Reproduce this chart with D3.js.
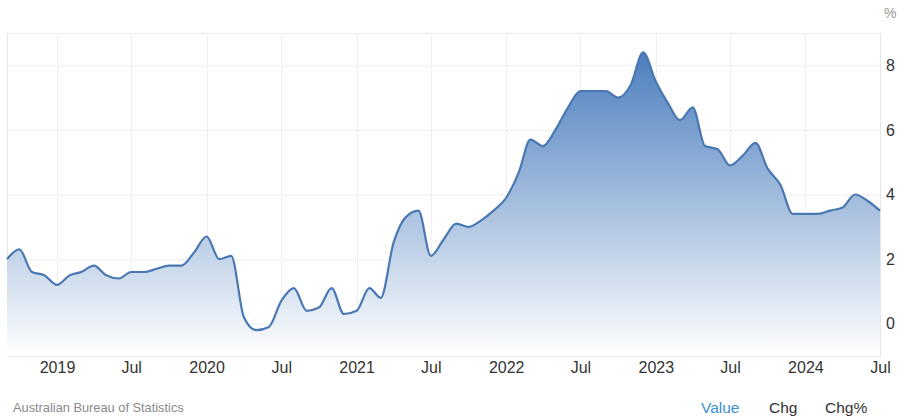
<!DOCTYPE html>
<html>
<head>
<meta charset="utf-8">
<script src="https://cdn.jsdelivr.net/npm/d3@7"></script>
<style>
  body { margin: 0; background: #fff; }
  svg { display: block; font-family: Arial, "Liberation Sans", sans-serif; }
</style>
</head>
<body>
<div id="chart"></div>
<script>
// Australia monthly CPI indicator, annual % change, Sep 2018 - Jul 2024
const startMonth = '2018-09';
const values = [
    2.0, 2.3, 1.6, 1.5,                                   // 2018 Sep-Dec
    1.2, 1.5, 1.6, 1.8, 1.5, 1.4, 1.6, 1.6, 1.7, 1.8, 1.8, 2.2, // 2019
    2.7, 2.0, 2.1, 0.2, -0.2, -0.1, 0.7, 1.1, 0.4, 0.5, 1.1, 0.3, // 2020
    0.4, 1.1, 0.8, 2.5, 3.3, 3.5, 2.1, 2.6, 3.1, 3.0, 3.2, 3.5, // 2021
    3.9, 4.7, 5.7, 5.5, 6.0, 6.7, 7.2, 7.2, 7.2, 7.0, 7.4, 8.4, // 2022
    7.5, 6.8, 6.3, 6.7, 5.5, 5.4, 4.9, 5.2, 5.6, 4.8, 4.3, 3.4, // 2023
    3.4, 3.4, 3.5, 3.6, 4.0, 3.8, 3.5                     // 2024 Jan-Jul
];
const xTicks = ['2019-01', '2019-07', '2020-01', '2020-07', '2021-01', '2021-07',
    '2022-01', '2022-07', '2023-01', '2023-07', '2024-01', '2024-07'];
const yTicks = [0, 2, 4, 6, 8];
const source = 'Australian Bureau of Statistics';
const buttons = ['Value', 'Chg', 'Chg%'];

const parseMonth = d3.timeParse('%Y-%m');
const first = parseMonth(startMonth);
const data = values.map((v, i) => ({date: d3.timeMonth.offset(first, i), value: v}));

const width = 900;
const height = 420;
const plot = {left: 7, right: 880, top: 33, bottom: 356};

const x = d3.scaleTime()
    .domain([first, data[data.length - 1].date])
    .range([plot.left, plot.right]);

const y = d3.scaleLinear()
    .domain([-1, 9])
    .range([plot.bottom, plot.top]);

const svg = d3.select('#chart').append('svg')
    .attr('width', width)
    .attr('height', height);

const defs = svg.append('defs');
const grad = defs.append('linearGradient')
    .attr('id', 'fill')
    .attr('gradientUnits', 'userSpaceOnUse')
    .attr('x1', 0).attr('x2', 0)
    .attr('y1', y(8.5)).attr('y2', plot.bottom);
grad.append('stop').attr('offset', '0%').attr('stop-color', '#4a7dbd');
grad.append('stop').attr('offset', '100%').attr('stop-color', '#ffffff');

// grid
const grid = svg.append('g')
    .attr('stroke', '#e0e0e0')
    .attr('stroke-dasharray', '1,1');

grid.selectAll('.hgrid')
    .data([...yTicks, 9])
    .enter()
    .append('line')
    .attr('x1', plot.left)
    .attr('x2', plot.right)
    .attr('y1', d => y(d) + 0.5)
    .attr('y2', d => y(d) + 0.5);

grid.selectAll('.vgrid')
    .data(xTicks.map(parseMonth))
    .enter()
    .append('line')
    .attr('x1', d => Math.round(x(d)) + 0.5)
    .attr('x2', d => Math.round(x(d)) + 0.5)
    .attr('y1', plot.top)
    .attr('y2', plot.bottom);

// frame: left edge, bottom edge, right axis
svg.append('path')
    .attr('d', `M${plot.left + 0.5},${plot.top}V${plot.bottom + 0.5}H${plot.right + 0.5}V${plot.top}`)
    .attr('fill', 'none')
    .attr('stroke', '#e6e6e6');

const curve = d3.curveMonotoneX;

const area = d3.area()
    .x(d => x(d.date))
    .y0(plot.bottom)
    .y1(d => y(d.value))
    .curve(curve);

const line = d3.line()
    .x(d => x(d.date))
    .y(d => y(d.value))
    .curve(curve);

svg.append('path')
    .datum(data)
    .attr('d', area)
    .attr('fill', 'url(#fill)');

svg.append('path')
    .datum(data)
    .attr('d', line)
    .attr('fill', 'none')
    .attr('stroke', '#4a78b3')
    .attr('stroke-width', 2.2)
    .attr('stroke-linejoin', 'round');

// x axis labels
const xAxis = svg.append('g')
    .attr('transform', `translate(0,${plot.bottom})`)
    .call(d3.axisBottom(x)
        .tickValues(xTicks.map(parseMonth))
        .tickSize(0)
        .tickPadding(6)
        .tickFormat(d => d.getMonth() === 0 ? d3.timeFormat('%Y')(d) : d3.timeFormat('%b')(d)));
xAxis.select('.domain').remove();
xAxis.selectAll('text')
    .attr('font-size', 16)
    .attr('fill', '#333')
    .attr('font-family', 'Arial, "Liberation Sans", sans-serif');

// y axis labels on the right
const yAxis = svg.append('g')
    .attr('transform', `translate(${plot.right},0)`)
    .call(d3.axisRight(y)
        .tickValues(yTicks)
        .tickSize(0)
        .tickPadding(6));
yAxis.select('.domain').remove();
yAxis.selectAll('text')
    .attr('font-size', 16)
    .attr('fill', '#333')
    .attr('font-family', 'Arial, "Liberation Sans", sans-serif');

svg.append('text')
    .attr('x', 884)
    .attr('y', 18)
    .attr('font-size', 14)
    .attr('fill', '#999')
    .text('%');

svg.append('text')
    .attr('x', 13)
    .attr('y', 412)
    .attr('font-size', 12.8)
    .attr('fill', '#8a8a8a')
    .text(source);

const btnX = [701, 769, 825];
svg.selectAll('.btn')
    .data(buttons)
    .enter()
    .append('text')
    .attr('x', (d, i) => btnX[i])
    .attr('y', 413)
    .attr('font-size', 15.5)
    .attr('fill', (d, i) => i === 0 ? '#3d8fd1' : '#333')
    .text(d => d);
</script>
</body>
</html>
